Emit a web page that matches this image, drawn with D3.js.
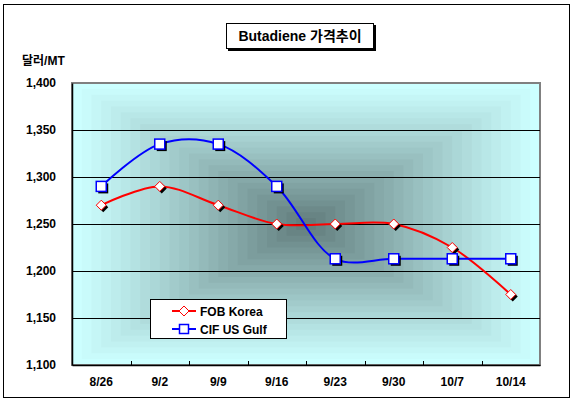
<!DOCTYPE html>
<html>
<head>
<meta charset="utf-8">
<script src="https://cdn.jsdelivr.net/npm/d3@7"></script>
<style>
body { margin: 0; background: #fff; }
text { font-family: "Liberation Sans", Arial, "Noto Sans CJK KR", sans-serif; font-weight: bold; }
</style>
</head>
<body>
<svg id="drawing_region"></svg>
<script>
var categories = ['8/26', '9/2', '9/9', '9/16', '9/23', '9/30', '10/7', '10/14'];
var fob_korea = [1270, 1290, 1270, 1250, 1250, 1250, 1225, 1175];
var cif_us_gulf = [1290, 1335, 1335, 1290, 1213, 1213, 1213, 1213];
var y_ticks = [1100, 1150, 1200, 1250, 1300, 1350, 1400];

var series = [
    {name: 'FOB Korea', values: fob_korea, color: '#ff0000', marker: 'diamond'},
    {name: 'CIF US Gulf', values: cif_us_gulf, color: '#0000ff', marker: 'square'}
];

var config = {
    width: 574, height: 406,
    plot: {left: 72, top: 83, right: 540, bottom: 365}
};

var svg = d3.select('#drawing_region')
    .attr('width', config.width)
    .attr('height', config.height);

// chart border
svg.append('rect')
    .attr('x', 3.5).attr('y', 4.5)
    .attr('width', 566).attr('height', 393)
    .attr('fill', '#fff').attr('stroke', '#000');

var p = config.plot;
var inner_width = p.right - p.left;
var inner_height = p.bottom - p.top;

var xscale = d3.scaleBand().domain(categories).range([p.left, p.right]);
var yscale = d3.scaleLinear().domain([1100, 1400]).range([p.bottom, p.top]);

// rectangular "from center" gradient background
var bg = svg.append('g');
var steps = 24;
var col = d3.interpolateRgb('#ccffff', '#5e7878');
for (let i = 0; i < steps; i++) {
    let t = i / steps;
    let w = inner_width * (1 - t) , h = inner_height * (1 - t);
    bg.append('rect')
        .attr('x', p.left + (inner_width - w) / 2)
        .attr('y', p.top + (inner_height - h) / 2)
        .attr('width', w).attr('height', h)
        .attr('fill', col(Math.pow(t, 1.1)));
}

// plot frame
svg.append('rect')
    .attr('x', p.left).attr('y', p.top)
    .attr('width', inner_width).attr('height', inner_height)
    .attr('fill', 'none').attr('stroke', '#808080').attr('stroke-width', 2);

// gridlines
svg.append('g').selectAll('line')
    .data(y_ticks.slice(1, -1))
    .join('line')
    .attr('x1', p.left).attr('x2', p.right)
    .attr('y1', d => Math.round(yscale(d)) + 0.5)
    .attr('y2', d => Math.round(yscale(d)) + 0.5)
    .attr('stroke', '#000');

// axes
var xaxis = d3.axisBottom(xscale).tickSize(0).tickPadding(12);
var xaxis_group = svg.append('g')
    .attr('transform', `translate(0, ${p.bottom})`)
    .call(xaxis);
xaxis_group.select('.domain').attr('stroke', '#000').attr('stroke-width', 1.5);
xaxis_group.selectAll('text').attr('font-size', 12).attr('fill', '#000');
// tick marks between categories
svg.append('g').selectAll('line')
    .data(categories.slice(1))
    .join('line')
    .attr('x1', d => Math.round(xscale(d)) + 0.5)
    .attr('x2', d => Math.round(xscale(d)) + 0.5)
    .attr('y1', p.bottom - 4).attr('y2', p.bottom)
    .attr('stroke', '#000');

var yaxis = d3.axisLeft(yscale).tickValues(y_ticks).tickSize(0).tickPadding(16)
    .tickFormat(d3.format(','));
var yaxis_group = svg.append('g')
    .attr('transform', `translate(${p.left}, 0)`)
    .call(yaxis);
yaxis_group.select('.domain').attr('stroke', '#000').attr('stroke-width', 1.5);
yaxis_group.selectAll('text').attr('font-size', 12).attr('fill', '#000');

// unit label
svg.append('text')
    .attr('x', 22).attr('y', 65)
    .attr('font-size', 12)
    .text('달러/MT');

// title box
svg.append('rect')
    .attr('x', 228).attr('y', 25).attr('width', 148).attr('height', 26)
    .attr('fill', '#000');
svg.append('rect')
    .attr('x', 226.5).attr('y', 23.5).attr('width', 147).attr('height', 25)
    .attr('fill', '#fff').attr('stroke', '#000');
svg.append('text')
    .attr('x', 300).attr('y', 41)
    .attr('text-anchor', 'middle')
    .attr('font-size', 14)
    .text('Butadiene 가격추이');

// lines
var line = d3.line()
    .x((d, i) => xscale(categories[i]) + xscale.bandwidth() / 2)
    .y(d => yscale(d))
    .curve(d3.curveCatmullRom.alpha(0.5));

function marker(g, type, color, s) {
    if (type === 'diamond') {
        g.append('path').attr('d', `M2,${-s + 2}L${s + 2},2L2,${s + 2}L${-s + 2},2Z`).attr('fill', '#000');
        g.append('path').attr('d', `M0,${-s}L${s},0L0,${s}L${-s},0Z`)
            .attr('fill', '#fff').attr('stroke', color).attr('stroke-width', 1);
    } else {
        g.append('rect').attr('x', -s + 2).attr('y', -s + 2).attr('width', 2 * s).attr('height', 2 * s).attr('fill', '#000');
        g.append('rect').attr('x', -s).attr('y', -s).attr('width', 2 * s).attr('height', 2 * s)
            .attr('fill', '#fff').attr('stroke', color).attr('stroke-width', 1.5);
    }
}

series.forEach(s => {
    svg.append('path')
        .datum(s.values)
        .attr('d', line)
        .attr('fill', 'none')
        .attr('stroke', s.color)
        .attr('stroke-width', 2);
});
series.forEach(s => {
    s.values.forEach((v, i) => {
        let g = svg.append('g')
            .attr('transform', `translate(${xscale(categories[i]) + xscale.bandwidth() / 2}, ${yscale(v)})`);
        marker(g, s.marker, s.color, s.marker === 'diamond' ? 5 : 5);
    });
});

// legend
var legend = svg.append('g');
legend.append('rect')
    .attr('x', 150.5).attr('y', 299.5).attr('width', 136).attr('height', 39)
    .attr('fill', '#fff').attr('stroke', '#000');
series.forEach((s, i) => {
    let yy = 311 + i * 18;
    legend.append('line')
        .attr('x1', 172).attr('x2', 196).attr('y1', yy).attr('y2', yy)
        .attr('stroke', s.color).attr('stroke-width', 2);
    let g = legend.append('g').attr('transform', `translate(184, ${yy})`);
    if (s.marker === 'diamond') {
        g.append('path').attr('d', 'M0,-5L5,0L0,5L-5,0Z').attr('fill', '#fff').attr('stroke', s.color);
    } else {
        g.append('rect').attr('x', -4.5).attr('y', -4.5).attr('width', 9).attr('height', 9)
            .attr('fill', '#fff').attr('stroke', s.color).attr('stroke-width', 1.5);
    }
    legend.append('text')
        .attr('x', 200).attr('y', yy + 4.5)
        .attr('font-size', 12)
        .text(s.name);
});
</script>
</body>
</html>
